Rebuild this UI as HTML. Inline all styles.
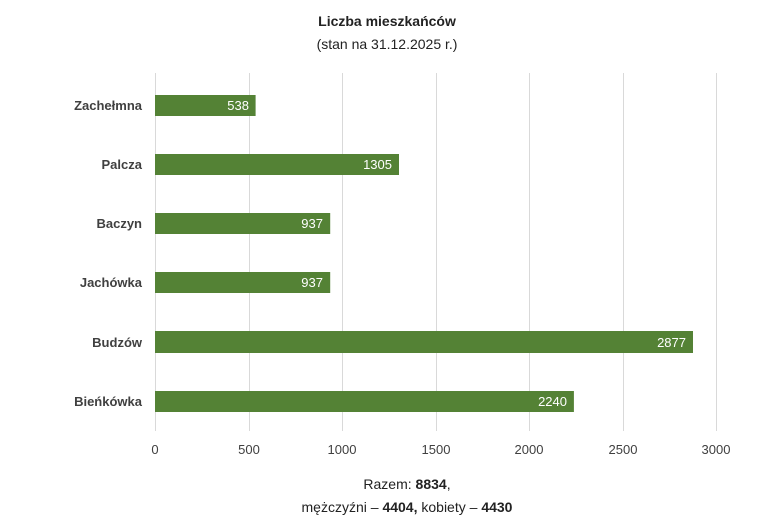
<!DOCTYPE html>
<html><head><meta charset="utf-8"><style>
body{margin:0;background:#fff;width:774px;height:529px;overflow:hidden}
svg{display:block}
</style></head><body>
<svg width="774" height="529" xmlns="http://www.w3.org/2000/svg" font-family="'Liberation Sans', 'DejaVu Sans', sans-serif">
<text x="387" y="26" text-anchor="middle" font-size="14" font-weight="bold" fill="#222">Liczba mieszkańców</text>
<text x="387" y="49" text-anchor="middle" font-size="14" fill="#222">(stan na 31.12.2025 r.)</text>
<g stroke="#d9d9d9" stroke-width="1">
<line x1="155.5" y1="73" x2="155.5" y2="431"/>
<line x1="249.5" y1="73" x2="249.5" y2="431"/>
<line x1="342.5" y1="73" x2="342.5" y2="431"/>
<line x1="436.5" y1="73" x2="436.5" y2="431"/>
<line x1="529.5" y1="73" x2="529.5" y2="431"/>
<line x1="623.5" y1="73" x2="623.5" y2="431"/>
<line x1="716.5" y1="73" x2="716.5" y2="431"/>
</g>
<g fill="#548235">
<rect x="155" y="95" width="100.6" height="21"/>
<rect x="155" y="154" width="244" height="21"/>
<rect x="155" y="213" width="175.2" height="21"/>
<rect x="155" y="272" width="175.2" height="21"/>
<rect x="155" y="331" width="538" height="22"/>
<rect x="155" y="391" width="418.9" height="21"/>
</g>
<g fill="#fff" font-size="13" text-anchor="end">
<text x="249" y="110">538</text>
<text x="392" y="169">1305</text>
<text x="323" y="228">937</text>
<text x="323" y="287">937</text>
<text x="686" y="347">2877</text>
<text x="567" y="406">2240</text>
</g>
<g fill="#404040" font-size="13" font-weight="bold" text-anchor="end">
<text x="142" y="110">Zachełmna</text>
<text x="142" y="169">Palcza</text>
<text x="142" y="228">Baczyn</text>
<text x="142" y="287">Jachówka</text>
<text x="142" y="347">Budzów</text>
<text x="142" y="406">Bieńkówka</text>
</g>
<g fill="#404040" font-size="13" text-anchor="middle">
<text x="155" y="454">0</text>
<text x="249" y="454">500</text>
<text x="342" y="454">1000</text>
<text x="436" y="454">1500</text>
<text x="529" y="454">2000</text>
<text x="623" y="454">2500</text>
<text x="716" y="454">3000</text>
</g>
<text x="407" y="489" text-anchor="middle" font-size="14" fill="#222">Razem: <tspan font-weight="bold">8834</tspan>,</text>
<text x="407" y="512" text-anchor="middle" font-size="14" fill="#222">mężczyźni – <tspan font-weight="bold">4404,</tspan> kobiety – <tspan font-weight="bold">4430</tspan></text>
</svg>
</body></html>
